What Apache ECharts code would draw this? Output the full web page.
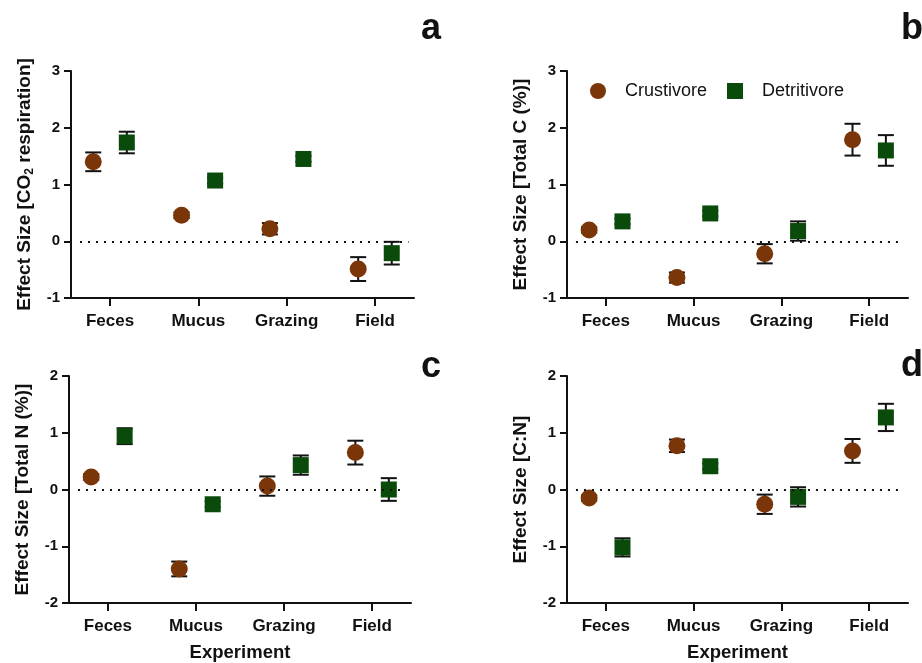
<!DOCTYPE html>
<html>
<head>
<meta charset="utf-8">
<script src="https://cdn.jsdelivr.net/npm/echarts@6/dist/echarts.min.js"></script>
<style>html,body{margin:0;padding:0;background:#fff}#c{width:922px;height:663px}</style>
</head>
<body>
<div id="c"></div>
<script>
var categories = ['Feces', 'Mucus', 'Grazing', 'Field'];
var seriesNames = ['Crustivore', 'Detritivore'];

// panel a: CO2 respiration
var aCrust = [1.40, 0.46, 0.22, -0.49];
var aCrustErr = [0.165, 0.05, 0.10, 0.21];
var aDetr = [1.74, 1.07, 1.45, -0.21];
var aDetrErr = [0.19, 0.05, 0.05, 0.20];
// panel b: Total C
var bCrust = [0.20, -0.64, -0.22, 1.79];
var bCrustErr = [0.05, 0.09, 0.17, 0.28];
var bDetr = [0.35, 0.49, 0.18, 1.60];
var bDetrErr = [0.05, 0.05, 0.17, 0.27];
// panel c: Total N
var cCrust = [0.22, -1.40, 0.06, 0.65];
var cCrustErr = [0.05, 0.13, 0.17, 0.21];
var cDetr = [0.94, -0.26, 0.43, 0.00];
var cDetrErr = [0.14, 0.05, 0.17, 0.20];
// panel d: C:N
var dCrust = [-0.15, 0.77, -0.26, 0.68];
var dCrustErr = [0.05, 0.11, 0.17, 0.21];
var dDetr = [-1.02, 0.41, -0.13, 1.27];
var dDetrErr = [0.16, 0.05, 0.17, 0.24];

var yTicksAB = [-1, 0, 1, 2, 3];
var yTicksCD = [-2, -1, 0, 1, 2];
var panelLetters = ['a', 'b', 'c', 'd'];

var FONT = "'Liberation Sans', Arial, sans-serif";
var BROWN = '#7a3508';
var GREEN = '#0a4a0b';
var DODGE = 0.19;

var panels = [
  {crust: aCrust, crustErr: aCrustErr, detr: aDetr, detrErr: aDetrErr, ticks: yTicksAB,
   name: '{n|Effect Size [CO}{s|2}{n| respiration]}', grid: {left: 71, top: 71, width: 343, height: 227}, xname: '',
   letter: {left: 421, top: 11}},
  {crust: bCrust, crustErr: bCrustErr, detr: bDetr, detrErr: bDetrErr, ticks: yTicksAB,
   name: '{n|Effect Size [Total C (%)]}', grid: {left: 567, top: 71, width: 341, height: 227}, xname: '',
   letter: {left: 901, top: 11}},
  {crust: cCrust, crustErr: cCrustErr, detr: cDetr, detrErr: cDetrErr, ticks: yTicksCD,
   name: '{n|Effect Size [Total N (%)]}', grid: {left: 69, top: 376, width: 342, height: 228}, xname: 'Experiment',
   letter: {left: 421, top: 349}},
  {crust: dCrust, crustErr: dCrustErr, detr: dDetr, detrErr: dDetrErr, ticks: yTicksCD,
   name: '{n|Effect Size [C:N]}', grid: {left: 567, top: 376, width: 341, height: 228}, xname: 'Experiment',
   letter: {left: 901, top: 348}}
];

var grids = [], xAxes = [], yAxes = [], series = [], graphics = [];

function errRender(params, api) {
  var x = api.value(0), lo = api.value(1), hi = api.value(2);
  var pLo = api.coord([x, lo]), pHi = api.coord([x, hi]);
  var cap = 8;
  var st = {stroke: '#111', lineWidth: 2};
  return {type: 'group', children: [
    {type: 'line', shape: {x1: pLo[0], y1: pLo[1], x2: pHi[0], y2: pHi[1]}, style: st},
    {type: 'line', shape: {x1: pLo[0] - cap, y1: pLo[1], x2: pLo[0] + cap, y2: pLo[1]}, style: st},
    {type: 'line', shape: {x1: pHi[0] - cap, y1: pHi[1], x2: pHi[0] + cap, y2: pHi[1]}, style: st}
  ]};
}

panels.forEach(function (p, i) {
  grids.push(p.grid);
  xAxes.push({
    type: 'value', gridIndex: i, min: 0.558, max: 4.442,
    axisLine: {show: true, onZero: false, lineStyle: {color: '#111', width: 2}},
    axisTick: {show: true, length: 8, lineStyle: {color: '#111', width: 2}, customValues: [1, 2, 3, 4]},
    axisLabel: {customValues: [1, 2, 3, 4], margin: 15, color: '#111', fontFamily: FONT, fontWeight: 'bold', fontSize: 17,
      formatter: function (v) { return categories[Math.round(v) - 1] || ''; }},
    splitLine: {show: false},
    name: p.xname, nameLocation: 'middle', nameGap: 40,
    nameTextStyle: {color: '#111', fontFamily: FONT, fontWeight: 'bold', fontSize: 18.5}
  });
  yAxes.push({
    type: 'value', gridIndex: i, min: p.ticks[0], max: p.ticks[p.ticks.length - 1], interval: 1,
    axisLine: {show: true, lineStyle: {color: '#111', width: 2}},
    axisTick: {show: true, length: 7, lineStyle: {color: '#111', width: 2}},
    axisLabel: {margin: 11, color: '#111', fontFamily: FONT, fontWeight: 'bold', fontSize: 15},
    splitLine: {show: false},
    name: p.name, nameLocation: 'middle', nameGap: 35, nameRotate: 90,
    nameTextStyle: {color: '#111', fontFamily: FONT, fontWeight: 'bold', fontSize: 19,
      rich: {
        n: {color: '#111', fontFamily: FONT, fontWeight: 'bold', fontSize: 19, lineHeight: 22},
        s: {color: '#111', fontFamily: FONT, fontWeight: 'bold', fontSize: 12, verticalAlign: 'bottom', lineHeight: 22, padding: [7, 0, 0, 0]}
      }}
  });
  graphics.push({type: 'text', left: p.letter.left, top: p.letter.top,
    style: {text: panelLetters[i], font: 'bold 36px ' + FONT, fill: '#111'}});
  var errData = [];
  categories.forEach(function (c, k) {
    errData.push([k + 1 - DODGE, p.crust[k] - p.crustErr[k], p.crust[k] + p.crustErr[k]]);
    errData.push([k + 1 + DODGE, p.detr[k] - p.detrErr[k], p.detr[k] + p.detrErr[k]]);
  });
  series.push({
    type: 'custom', xAxisIndex: i, yAxisIndex: i, renderItem: errRender, data: errData, z: 1,
    encode: {x: 0, y: [1, 2]}, silent: true,
    markLine: {silent: true, symbol: 'none', label: {show: false},
      lineStyle: {color: '#111', width: 2, type: [2, 6]},
      data: [[{coord: [0.66, 0]}, {coord: [4.38, 0]}]]}
  });
  series.push({
    type: 'scatter', name: seriesNames[0], xAxisIndex: i, yAxisIndex: i, symbol: 'circle', symbolSize: 17,
    itemStyle: {color: BROWN, opacity: 1}, z: 3,
    data: p.crust.map(function (v, k) { return [k + 1 - DODGE, v]; })
  });
  series.push({
    type: 'scatter', name: seriesNames[1], xAxisIndex: i, yAxisIndex: i, symbol: 'rect', symbolSize: 16,
    itemStyle: {color: GREEN, opacity: 1}, z: 3,
    data: p.detr.map(function (v, k) { return [k + 1 + DODGE, v]; })
  });
});

var chart = echarts.init(document.getElementById('c'), null, {renderer: 'canvas'});
chart.setOption({
  animation: false,
  backgroundColor: '#fff',
  grid: grids,
  xAxis: xAxes,
  yAxis: yAxes,
  legend: {
    left: 585, top: 77, itemWidth: 16, itemHeight: 16, itemGap: 20,
    data: [{name: seriesNames[0], icon: 'circle'}, {name: seriesNames[1], icon: 'rect'}],
    textStyle: {color: '#111', fontFamily: FONT, fontSize: 18, padding: [0, 0, 0, 14]},
    selectedMode: false
  },
  graphic: graphics,
  series: series
});
</script>
</body>
</html>
